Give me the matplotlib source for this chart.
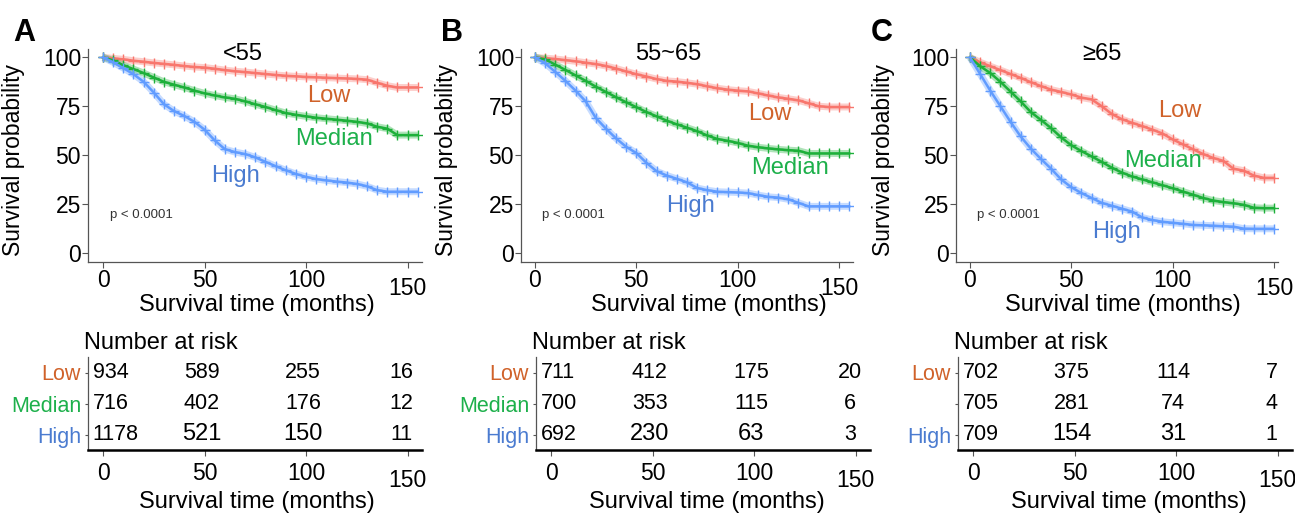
import matplotlib
matplotlib.use('Agg')
import matplotlib.pyplot as plt
import numpy as np

plt.rcParams['font.family'] = ['Liberation Sans', 'DejaVu Sans']

# survival (%) read every 5 months
months_ab = list(range(0, 160, 5))   # 0..155
months_c = list(range(0, 155, 5))    # 0..150

a_low = [100, 99.5, 99, 98.3, 97.8, 97.2, 96.7, 96.2, 95.6, 95.1, 94.8, 94.2, 93.5, 92.9, 92.5, 92.0,
         91.5, 91.0, 90.6, 90.3, 90.0, 89.8, 89.6, 89.4, 89.2, 89.0, 88.6, 87.0, 85.5, 84.6, 84.6, 84.6]
a_med = [100, 98.5, 96, 94, 92, 89.7, 87.5, 86, 84.6, 83, 81.6, 80.5, 79.5, 78.8, 77.5, 76,
         74.6, 73, 71.5, 70.6, 69.8, 69.1, 68.6, 68.1, 67.6, 67, 66.2, 64.5, 63.5, 60.2, 60.2, 60.2]
a_high = [100, 97.5, 94.5, 91.4, 87.5, 82, 76, 72.5, 70, 67, 63, 57.5, 53, 51.5, 50.5, 48.8,
          46.5, 44.3, 42.2, 40.3, 38.8, 37.7, 37, 36.4, 35.9, 35.2, 34, 32, 31.2, 31.2, 31.2, 31.2]

b_low = [100, 99.6, 99.2, 98.6, 98, 97.3, 96.6, 95.6, 94.3, 92.8, 91.4, 90.2, 88.9, 88, 87.6, 87,
         86.3, 85.2, 84.2, 83.5, 83, 82.6, 81.6, 80.5, 79.5, 78.8, 78, 76.5, 75, 74.6, 74.6, 74.6]
b_med = [100, 99, 96.3, 93.6, 90.8, 88, 85, 82.3, 79.6, 77, 74.5, 72, 69.8, 67.6, 65.7, 64,
         62.2, 60, 58.2, 57.3, 56.2, 54.8, 54, 53.4, 52.9, 52.5, 52.2, 50.8, 50.8, 50.8, 50.8, 50.8]
b_high = [100, 97, 92.6, 88, 83, 77.5, 69, 63.5, 58.5, 54.2, 51, 46, 41.7, 39.5, 37.8, 36,
          33.1, 32, 31.2, 31, 30.8, 30.5, 29.5, 28.6, 28.2, 27.3, 25.5, 23.7, 23.7, 23.7, 23.7, 23.7]

c_low = [100, 97.5, 95.5, 93.5, 91.5, 89.5, 87.3, 85.3, 83.5, 82.3, 81, 79.4, 78.5, 75, 71, 68.3,
         66.5, 64.8, 63, 61, 58, 55.5, 53, 50.5, 48.5, 47, 43, 42, 39.5, 38.3, 38.3]
c_med = [100, 95.5, 92, 87.5, 82.5, 77.5, 72, 68, 63.8, 59, 55, 52, 49.3, 46.5, 43.5, 41,
         39, 37.5, 36, 34.5, 33, 31.3, 29.7, 28, 26.7, 25.9, 25.3, 24.5, 23, 22.8, 22.8]
c_high = [100, 91.5, 83, 75, 67, 59.5, 53.3, 48, 43, 37.5, 33.5, 30.5, 28, 25.5, 24, 22.5,
          21, 18, 16.7, 15.8, 15.3, 14.8, 14.2, 14, 13.8, 13.5, 13.3, 12.3, 12.2, 12.2, 12.2]

# number at risk at 0, 50, 100, 150 months
risk_times = [0, 50, 100, 150]
a_risk = {'Low': [934, 589, 255, 16], 'Median': [716, 402, 176, 12], 'High': [1178, 521, 150, 11]}
b_risk = {'Low': [711, 412, 175, 20], 'Median': [700, 353, 115, 6], 'High': [692, 230, 63, 3]}
c_risk = {'Low': [702, 375, 114, 7], 'Median': [705, 281, 74, 4], 'High': [709, 154, 31, 1]}

groups = ['Low', 'Median', 'High']
line_col = {'Low': '#F8766D', 'Median': '#1DB03A', 'High': '#619CFF'}
text_col = {'Low': '#D0622A', 'Median': '#1DB04B', 'High': '#4A7BD0'}

W, H = 1295, 515


def box(l, t, r, b):
    return [l / W, 1 - b / H, (r - l) / W, (b - t) / H]


panels = [
    dict(letter='A', title='<55', t=months_ab, curves=[a_low, a_med, a_high], risk=a_risk,
         km=box(88, 49, 422, 262), xl=(-7.4, 157.1), tab=box(88, 357, 422, 450), txl=(-7.4, 157.1),
         lab={'Low': (111, 80), 'Median': (113.6, 58), 'High': (65, 39)},
         title_x=0.464, xlab_x=0.507, tlab_x=0.507, lx=13, tab_labels=groups),
    dict(letter='B', title='55~65', t=months_ab, curves=[b_low, b_med, b_high], risk=b_risk,
         km=box(521, 49, 853, 262), xl=(-6.9, 156.9), tab=box(536, 357, 870, 450), txl=(-7.4, 157),
         lab={'Low': (116, 71), 'Median': (126, 43.4), 'High': (76.5, 23.7)},
         title_x=0.443, xlab_x=0.566, tlab_x=0.513, lx=441, tab_labels=groups),
    dict(letter='C', title='\u226565', t=months_c, curves=[c_low, c_med, c_high], risk=c_risk,
         km=box(956, 49, 1278, 262), xl=(-6.9, 152), tab=box(958, 357, 1292, 450), txl=(-7.4, 157),
         lab={'Low': (103.6, 72.6), 'Median': (95.4, 46.8), 'High': (72.4, 10.8)},
         title_x=0.453, xlab_x=0.517, tlab_x=0.512, lx=871, tab_labels=['Low', '', 'High']),
]

fig = plt.figure(figsize=(W / 100, H / 100), dpi=100)

for p in panels:
    ax = fig.add_axes(p['km'])
    t = np.array(p['t'], dtype=float)
    for g, s in zip(groups, p['curves']):
        # soft band imitating the dense censoring marks, then the curve itself
        ax.plot(t, s, color=line_col[g], lw=5, alpha=0.35, solid_capstyle='butt', zorder=2)
        ax.plot(t, s, color=line_col[g], lw=1.8, marker='+', ms=7, mew=1.0, zorder=3)
        ax.text(p['lab'][g][0], p['lab'][g][1], g, color=text_col[g], fontsize=17,
                ha='center', va='center')
    ax.text(3.4, 19.5, 'p < 0.0001', fontsize=9.5, color='#333333', ha='left', va='center')
    ax.set_xlim(*p['xl'])
    ax.set_ylim(-4.8, 104.3)
    ax.set_xticks([0, 50, 100, 150])
    ax.set_yticks([0, 25, 50, 75, 100])
    for sp in ['top', 'right']:
        ax.spines[sp].set_visible(False)
    for sp in ['left', 'bottom']:
        ax.spines[sp].set_color('#555555')
        ax.spines[sp].set_linewidth(0.9)
    ax.tick_params(axis='both', length=4, width=0.8, color='#555555', pad=1, labelsize=16.5)
    ax.xaxis.get_major_ticks()[-1].set_pad(7)
    ax.set_ylabel('Survival probability', fontsize=16.5)
    ax.yaxis.set_label_coords(-0.19, 0.48)
    ax.set_xlabel('Survival time (months)', fontsize=17)
    ax.xaxis.label.set_va('center')
    ax.xaxis.set_label_coords(p['xlab_x'], -0.203)
    ax.text(p['title_x'], 0.975, p['title'], transform=ax.transAxes, fontsize=17,
            ha='center', va='center')
    fig.text(p['lx'] / W, 1 - 33 / H, p['letter'], fontsize=22, fontweight='bold',
             ha='left', va='center')

    # risk table
    tb = fig.add_axes(p['tab'])
    tb.set_xlim(*p['txl'])
    tb.set_ylim(0, 3)
    rows = [2.5, 1.5, 0.5]
    shifts = [-5, -1.5, -1.5, -3]
    aligns = ['left', 'center', 'center', 'center']
    for g, yy in zip(groups, rows):
        for j, (tt, n) in enumerate(zip(risk_times, p['risk'][g])):
            fs = 17 if (g == 'High' and j in (1, 2)) else 15.5
            tb.text(tt + shifts[j], yy, str(n), fontsize=fs, ha=aligns[j], va='center')
    tb.set_yticks(rows)
    tb.set_yticklabels(p['tab_labels'], fontsize=15.5)
    for lbl, g in zip(tb.get_yticklabels(), groups):
        lbl.set_color(text_col[g])
    tb.set_xticks(risk_times)
    tb.tick_params(axis='y', length=2, width=0.8, pad=3, color='#555555')
    tb.tick_params(axis='x', length=4, width=0.8, pad=5, labelsize=16.5, color='#555555')
    tb.xaxis.get_major_ticks()[-1].set_pad(9.5)
    for sp in ['top', 'right']:
        tb.spines[sp].set_visible(False)
    tb.spines['left'].set_color('#555555')
    tb.spines['left'].set_linewidth(0.9)
    tb.spines['bottom'].set_color('black')
    tb.spines['bottom'].set_linewidth(1.8)
    tb.set_xlabel('Survival time (months)', fontsize=17)
    tb.xaxis.label.set_va('center')
    tb.xaxis.set_label_coords(p['tlab_x'], -0.559)
    tb.text(-0.012, 1.15, 'Number at risk', transform=tb.transAxes, fontsize=17,
            ha='left', va='center')

fig.savefig('out.png', dpi=100)
